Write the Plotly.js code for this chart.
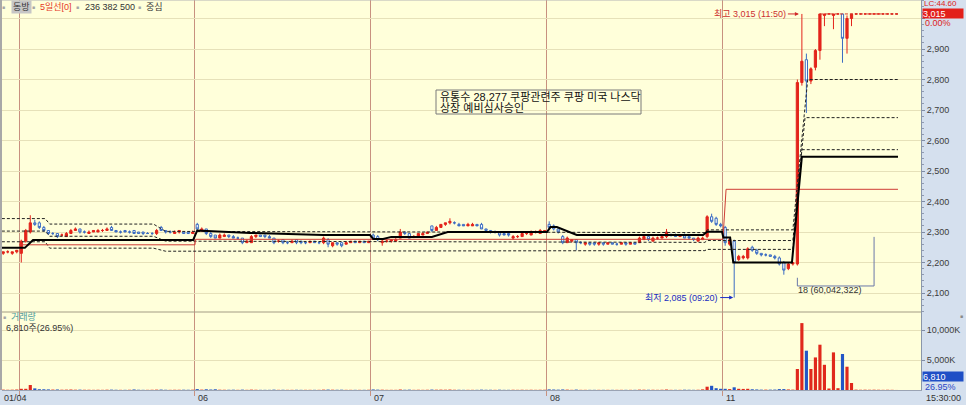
<!DOCTYPE html>
<html><head><meta charset="utf-8">
<script src="https://cdn.plot.ly/plotly-3.0.1.min.js"></script>
<style>html,body{margin:0;padding:0;background:#d5e0ee;}#chart{width:966px;height:405px;}</style>
</head><body><div id="chart"></div>
<script>
// ===== DATA (10-minute bars) rows: [open, high, low, close, volume in thousand shares] =====
const dayLabels = ['01/04', '06', '07', '08', '11'];
const prevDayBars = [
 [2230,2235,2225,2235,60],[2235,2240,2230,2235,40],[2230,2235,2225,2235,50],[2235,2240,2230,2240,80]
];
const day0104 = [
 [2230,2275,2200,2270,200],[2270,2310,2265,2305,200],[2300,2355,2295,2330,830],[2330,2340,2320,2325,270],
 [2330,2335,2310,2315,130],[2315,2320,2300,2305,120],[2305,2305,2290,2295,100],[2295,2300,2290,2295,70],
 [2295,2295,2280,2285,90],[2290,2295,2285,2290,50],[2285,2300,2285,2295,60],[2295,2310,2295,2305,80],
 [2305,2315,2305,2310,50],[2310,2310,2295,2300,60],[2300,2305,2295,2300,40],[2295,2305,2295,2300,40],
 [2300,2305,2300,2305,30],[2300,2310,2300,2305,40],[2305,2310,2300,2305,30],[2305,2315,2305,2310,50],
 [2315,2320,2305,2305,60],[2305,2305,2300,2300,40],[2300,2305,2295,2300,30],[2305,2305,2300,2300,30],
 [2300,2305,2295,2300,40],[2305,2305,2295,2295,90],[2300,2300,2295,2295,40],[2300,2300,2290,2295,30],
 [2295,2300,2295,2295,30],[2295,2300,2290,2295,40],[2295,2310,2290,2305,60],[2315,2320,2305,2305,70],
 [2305,2305,2295,2300,40],[2300,2305,2295,2300,30],[2295,2305,2295,2300,40],[2300,2305,2295,2305,40],
 [2300,2300,2295,2295,50],[2300,2300,2295,2295,40],[2295,2305,2295,2300,50]
];
const day06 = [
 [2325,2330,2305,2310,150],[2305,2315,2300,2310,60],[2310,2310,2290,2295,120],[2295,2300,2280,2285,80],
 [2290,2290,2280,2280,120],[2280,2295,2280,2290,50],[2285,2295,2285,2290,40],[2290,2290,2280,2285,40],
 [2285,2290,2280,2280,50],[2280,2285,2275,2280,30],[2280,2280,2260,2265,60],[2265,2275,2265,2270,30],
 [2265,2290,2265,2285,60],[2285,2290,2280,2290,40],[2290,2290,2285,2285,30],[2290,2290,2280,2285,30],
 [2285,2290,2280,2280,30],[2280,2280,2260,2265,60],[2270,2275,2265,2270,30],[2275,2275,2260,2265,40],
 [2265,2270,2260,2265,30],[2265,2275,2265,2270,30],[2275,2275,2260,2265,40],[2270,2270,2260,2265,30],
 [2265,2270,2260,2265,30],[2265,2270,2265,2270,30],[2270,2270,2265,2265,30],[2265,2270,2260,2265,30],
 [2265,2285,2260,2280,60],[2275,2280,2250,2260,70],[2255,2265,2250,2265,50],[2265,2265,2255,2260,40],
 [2265,2265,2250,2255,50],[2260,2270,2260,2265,30],[2265,2270,2265,2270,30],[2270,2270,2265,2265,30],
 [2265,2270,2265,2270,30],[2270,2270,2265,2265,30],[2265,2270,2265,2270,40]
];
const day07 = [
 [2290,2295,2280,2280,90],[2285,2290,2270,2275,60],[2265,2275,2255,2270,50],[2270,2275,2265,2270,30],
 [2270,2275,2265,2275,30],[2270,2280,2270,2275,30],[2280,2310,2280,2300,80],[2300,2300,2290,2295,40],
 [2295,2295,2280,2280,60],[2285,2290,2280,2285,30],[2285,2295,2285,2295,40],[2290,2300,2290,2295,30],
 [2295,2300,2295,2300,40],[2320,2320,2300,2305,70],[2305,2320,2305,2315,50],[2315,2325,2315,2325,60],
 [2325,2330,2320,2330,50],[2330,2345,2325,2335,70],[2330,2335,2325,2330,40],[2325,2330,2320,2320,40],
 [2325,2325,2320,2320,30],[2320,2330,2320,2325,30],[2320,2330,2320,2325,30],[2325,2325,2320,2320,30],
 [2325,2330,2310,2310,60],[2310,2310,2300,2305,40],[2305,2305,2295,2300,40],[2300,2305,2295,2300,30],
 [2300,2300,2285,2290,50],[2295,2295,2290,2290,30],[2295,2295,2285,2290,30],[2280,2290,2275,2285,40],
 [2285,2290,2280,2285,30],[2285,2300,2285,2295,40],[2295,2300,2290,2295,30],[2290,2305,2290,2300,40],
 [2300,2305,2295,2300,30],[2295,2310,2295,2305,40],[2300,2305,2300,2305,40]
];
const day08 = [
 [2325,2335,2310,2315,100],[2320,2325,2305,2310,80],[2310,2310,2295,2300,60],[2285,2290,2260,2265,90],
 [2265,2285,2265,2280,60],[2270,2275,2265,2275,30],[2275,2275,2240,2265,70],[2265,2270,2260,2265,30],
 [2260,2265,2255,2265,30],[2265,2265,2255,2260,30],[2265,2265,2255,2260,30],[2260,2265,2255,2265,30],
 [2265,2265,2255,2260,30],[2260,2265,2260,2265,30],[2265,2265,2260,2260,30],[2260,2265,2255,2260,30],
 [2260,2265,2260,2265,30],[2265,2265,2255,2260,30],[2260,2265,2260,2265,30],[2265,2265,2260,2260,30],
 [2265,2285,2265,2280,60],[2275,2290,2275,2285,50],[2285,2285,2270,2275,40],[2270,2285,2270,2280,40],
 [2280,2285,2275,2280,30],[2280,2290,2280,2285,40],[2285,2310,2280,2300,80],[2290,2295,2285,2290,30],
 [2290,2295,2285,2285,30],[2285,2290,2285,2290,30],[2290,2295,2280,2280,50],[2285,2285,2275,2280,40],
 [2280,2280,2270,2275,30],[2270,2285,2270,2280,40],[2275,2285,2275,2280,100],[2285,2355,2280,2350,550],
 [2350,2360,2330,2335,700],[2345,2350,2320,2325,300],[2325,2330,2315,2320,200]
];
const day11 = [
 [2315,2320,2255,2265,200],[2260,2280,2255,2275,150],[2270,2275,2085,2200,450],[2210,2225,2205,2220,200],
 [2215,2225,2210,2220,180],[2215,2250,2210,2245,200],[2250,2255,2235,2240,120],[2240,2245,2225,2230,90],
 [2230,2230,2220,2225,60],[2225,2230,2220,2225,60],[2225,2225,2220,2220,60],[2220,2225,2210,2215,70],
 [2215,2220,2190,2195,150],[2200,2205,2160,2175,150],[2180,2200,2175,2195,90],[2195,2200,2190,2200,60],
 [2195,2800,2190,2790,3500],[2790,3015,2780,2860,11150],[2865,2885,2690,2795,6550],[2795,2840,2785,2835,3500],
 [2840,2900,2830,2895,5430],[2895,3015,2865,3015,7550],[3010,3015,2975,3015,4200],[3015,3015,3015,3015,250],
 [3010,3015,2965,3015,6270],[3015,3015,3015,3015,300],[3015,3015,2855,2935,6000],[2935,3010,2885,3000,3880],
 [3000,3015,2975,3015,1170],[3015,3015,3015,3015,60],[3015,3015,3015,3015,40],[3015,3015,3015,3015,50],
 [3015,3015,3015,3015,40],[3015,3015,3015,3015,50],[3015,3015,3015,3015,40],[3015,3015,3015,3015,30],
 [3015,3015,3015,3015,40],[3015,3015,3015,3015,30],[3015,3015,3015,3015,6.81]
];
// indicator lines (vertices: bar index, price)
const centerLineX = [-0.3,4.8,6.6,42.1,43,54.7,70.9,81.3,82,84.2,86,95,98.5,120.5,121.3,122.7,127.1,155.1,156,159.3,159.6,161.1,161.8,174.8,177,198.3];
const centerLineY = [2248,2248,2274,2274,2305,2297,2290,2290,2277,2277,2284,2284,2300,2300,2316,2316,2290,2290,2301,2301,2282,2282,2200,2200,2547,2547];
const refLineX = [3.5,42.5,42.6,159.5,160.2,198.3];
const refLineY = [2258,2258,2276,2276,2440,2440];
const upperBandX = [-0.3,9.3,10.3,33.3,36,155.5,156,175,178.3,198.3];
const upperBandY = [2344,2344,2326,2326,2302,2298,2307,2307,2800,2800];
const midBandX = [-0.3,9.3,10.3,33.3,36,155.5,156,175,177.7,198.3];
const midBandY = [2303,2303,2286,2286,2270,2266,2272,2272,2675,2675];
const lowerBandX = [-0.3,9.3,10.3,33.3,36,155.5,156,175,177,198.3];
const lowerBandY = [2268,2268,2247,2247,2237,2239,2243,2243,2570,2570];
const limitLineX = [181,198.3];
const limitLineY = [3015,3015];
const noteLines = ['유통수 28,277 쿠팡관련주 쿠팡 미국 나스닥', '상장 예비심사승인'];
const rangeInfo = '18 (60,042,322)';

// ===== BUILD =====
const days = [day0104, day06, day07, day08, day11];
const bars = prevDayBars.concat(...days);
const idx = bars.map((_, i) => i);
const open = bars.map(b => b[0]), high = bars.map(b => b[1]), low = bars.map(b => b[2]), close = bars.map(b => b[3]), volK = bars.map(b => b[4]);
const dayStarts = []; let s = prevDayBars.length; days.forEach(d => { dayStarts.push(s); s += d.length; });
const bounds = dayStarts.map(v => v - 0.5);

const RED = '#e3241b', BLUE = '#3b6cc2', VRED = '#e0281c', VBLUE = '#2356c6';
const GRID = '#e6e1b9', DAYLINE = '#c8917f';
const FONT = 'Liberation Sans, Noto Sans CJK KR, sans-serif';

const fmt = v => Math.round(v).toLocaleString('en-US');
function barTime(i) {
  let ds = dayStarts[0]; dayStarts.forEach(d => { if (i >= d) ds = d; });
  const m = 9 * 60 + (i - ds) * 10;
  return String(Math.floor(m / 60)).padStart(2, '0') + ':' + String(m % 60).padStart(2, '0');
}
let iHi = 0, iLo = 0;
high.forEach((v, i) => { if (v > high[iHi]) iHi = i; });
low.forEach((v, i) => { if (v < low[iLo]) iLo = i; });

const volColors = bars.map(b => b[3] >= b[0] ? VRED : VBLUE);
const lineTrace = (x, y, color, width, dash) => ({type: 'scatter', mode: 'lines', x, y, xaxis: 'x', yaxis: 'y', line: {color, width, dash: dash || 'solid'}, hoverinfo: 'skip'});

const traces = [
  lineTrace(upperBandX, upperBandY, '#222', 1, '3px,2px'),
  lineTrace(midBandX, midBandY, '#222', 1, '3px,2px'),
  lineTrace(lowerBandX, lowerBandY, '#222', 1, '3px,2px'),
  lineTrace(limitLineX, limitLineY, '#d33a2c', 1, '3px,2px'),
  lineTrace(refLineX, refLineY, '#cf3d35', 1),
  lineTrace(centerLineX, centerLineY, '#000', 2),
  {type: 'candlestick', x: idx, open, high, low, close, xaxis: 'x', yaxis: 'y',
   increasing: {line: {color: RED, width: 1}, fillcolor: RED},
   decreasing: {line: {color: BLUE, width: 1}, fillcolor: 'rgba(255,255,255,0.9)'},
   whiskerwidth: 0, hoverinfo: 'skip'},
  {type: 'bar', x: idx, y: volK, xaxis: 'x', yaxis: 'y2', width: 0.7, marker: {color: volColors, line: {width: 0}}, hoverinfo: 'skip'}
];

// pixel -> paper helpers for text placement
const PL = 2, PT = 0, PW = 919, PH = 390;
const ax = px => (px - PL) / PW, ay = py => 1 - (py - PT) / PH;
const txt = (text, px, py, o) => Object.assign({xref: 'paper', yref: 'paper', x: ax(px), y: ay(py), text, showarrow: false,
  xanchor: 'left', yanchor: 'middle', borderpad: 0, font: {family: FONT, size: 9, color: '#333'}}, o || {});
const sq = (px, py, c) => txt('■', px, py, {xanchor: 'center', font: {size: 5, color: c || '#a6a6a6'}});

const lastClose = close[close.length - 1];
const lastVolShares = volK[volK.length - 1] * 1000;
const annotations = [
  sq(3, 7),
  txt('동방', 11, 7, {bgcolor: '#c6c6c6', borderpad: 1}),
  sq(33, 7),
  txt('5일선[0]', 39, 7, {font: {family: FONT, size: 9, color: '#e5381f'}}),
  sq(77, 7),
  txt('236 382 500', 84, 7),
  sq(139, 7),
  txt('중심', 145, 7),
  txt(noteLines[0], 439, 97, {font: {family: FONT, size: 11, color: '#111'}}),
  txt(noteLines[1], 439, 107.5, {font: {family: FONT, size: 11, color: '#111'}}),
  sq(4, 317),
  txt('거래량', 10, 316.5, {font: {family: FONT, size: 9, color: '#4e9d9d'}}),
  txt(fmt(lastVolShares) + '주(26.95%)', 5, 327.5),
  sq(961, 316, '#8a8a8a'),
  txt('LC:44.60', 923, 3.5, {yanchor: 'middle', font: {family: FONT, size: 8, color: '#d22'}}),
  txt(fmt(lastClose), 922, 13.5, {bgcolor: '#e3201b', width: 40, height: 9, align: 'left', font: {family: FONT, size: 9, color: '#fff'}}),
  txt('0.00%', 924, 22.5, {font: {family: FONT, size: 9, color: '#d22'}}),
  txt(fmt(lastVolShares), 922, 376.5, {bgcolor: '#1f4fc6', width: 40, height: 9, align: 'left', font: {family: FONT, size: 9, color: '#fff'}}),
  txt('26.95%', 924, 386.5, {font: {family: FONT, size: 9, color: '#2a46c4'}}),
  txt('15:30:00', 925, 397.5),
  txt(dayLabels[0], 3, 397.5),
  {xref: 'x', yref: 'y', x: iHi, y: high[iHi], text: '최고 ' + fmt(high[iHi]) + ' (' + barTime(iHi) + ')', showarrow: true,
   ax: -14, ay: 0, xanchor: 'right', yanchor: 'middle', arrowhead: 2, arrowsize: 0.8, arrowwidth: 1, arrowcolor: '#d02a2a', standoff: 3,
   font: {family: FONT, size: 9, color: '#cc3030'}},
  {xref: 'x', yref: 'y', x: iLo, y: low[iLo], text: '최저 ' + fmt(low[iLo]) + ' (' + barTime(iLo) + ')', showarrow: true,
   ax: -14, ay: 0, xanchor: 'right', yanchor: 'middle', arrowhead: 2, arrowsize: 0.8, arrowwidth: 1, arrowcolor: '#1a2cc8', standoff: 1,
   font: {family: FONT, size: 9, color: '#1a2cc0'}},
  {xref: 'x', yref: 'y', x: 175.8, y: 2110, text: rangeInfo, showarrow: false, xanchor: 'left', yanchor: 'middle',
   font: {family: FONT, size: 9, color: '#333'}}
];
dayLabels.slice(1).forEach((lab, k) => annotations.push({xref: 'x', yref: 'paper', x: bounds[k + 1], y: ay(397.5), text: lab,
  showarrow: false, xanchor: 'left', yanchor: 'middle', xshift: 1, font: {family: FONT, size: 9, color: '#333'}}));

const bStart = 176, bEnd = 193;
const shapes = [
  {type: 'line', xref: 'paper', yref: 'paper', x0: 0, x1: 1, y0: 0.2, y1: 0.2, line: {color: '#a39c84', width: 1}},
  {type: 'line', xref: 'paper', yref: 'paper', x0: 0, x1: 1, y0: 1, y1: 1, line: {color: '#b4b4b4', width: 1}},
  {type: 'line', xref: 'paper', yref: 'paper', x0: ax(1), x1: ax(1), y0: 0, y1: 1, line: {color: '#a8a8a8', width: 2}},
  {type: 'rect', xref: 'paper', yref: 'paper', x0: ax(436), x1: ax(641), y0: ay(114), y1: ay(90), line: {color: '#7a7a7a', width: 1}},
  {type: 'line', xref: 'x', yref: 'y', x0: bStart, x1: bStart, y0: 2150, y1: 2123, line: {color: '#6a78a8', width: 1}},
  {type: 'line', xref: 'x', yref: 'y', x0: bStart, x1: bEnd, y0: 2123, y1: 2123, line: {color: '#6a78a8', width: 1}},
  {type: 'line', xref: 'x', yref: 'y', x0: bEnd, x1: bEnd, y0: 2123, y1: 2284, line: {color: '#6a78a8', width: 1}}
];

const priceTicks = [2100, 2200, 2300, 2400, 2500, 2600, 2700, 2800, 2900, 3000];
const layout = {
  width: 966, height: 405, margin: {l: PL, r: 45, t: PT, b: 15, pad: 0},
  paper_bgcolor: '#d5e0ee', plot_bgcolor: '#ffffda', showlegend: false, hovermode: false,
  font: {family: FONT, size: 9, color: '#333'},
  xaxis: {range: [-0.27, 203.4], anchor: 'y2', tickmode: 'array', tickvals: bounds, showticklabels: false,
    showgrid: true, gridcolor: DAYLINE, gridwidth: 1, ticks: 'outside', ticklen: 5, tickcolor: DAYLINE,
    zeroline: false, showline: true, linecolor: '#9aa3b3', rangeslider: {visible: false}, fixedrange: true},
  yaxis: {domain: [0.2, 1], range: [2037.7, 3060.7], side: 'right', anchor: 'x', tickmode: 'array',
    tickvals: priceTicks, ticktext: priceTicks.map(v => v === 3000 ? '' : fmt(v)),
    showgrid: true, gridcolor: GRID, gridwidth: 1, zeroline: false, ticks: 'outside', ticklen: 3, tickcolor: '#7f8ca4',
    showline: true, linecolor: '#8a96aa', tickfont: {family: FONT, size: 9, color: '#3c3c3c'},
    minor: {tickmode: 'linear', tick0: 0, dtick: 20, ticks: 'outside', ticklen: 2, tickcolor: '#8f9ab0', showgrid: false}},
  yaxis2: {domain: [0, 0.2], range: [0, 13000], side: 'right', anchor: 'x', tickmode: 'array',
    tickvals: [5000, 10000], ticktext: ['5,000K', '10,000K'], showgrid: true, gridcolor: GRID, zeroline: false,
    ticks: 'outside', ticklen: 3, tickcolor: '#7f8ca4', showline: true, linecolor: '#8a96aa',
    tickfont: {family: FONT, size: 9, color: '#3c3c3c'}},
  annotations, shapes
};
Plotly.newPlot('chart', traces, layout, {staticPlot: true, displayModeBar: false});
</script></body></html>
